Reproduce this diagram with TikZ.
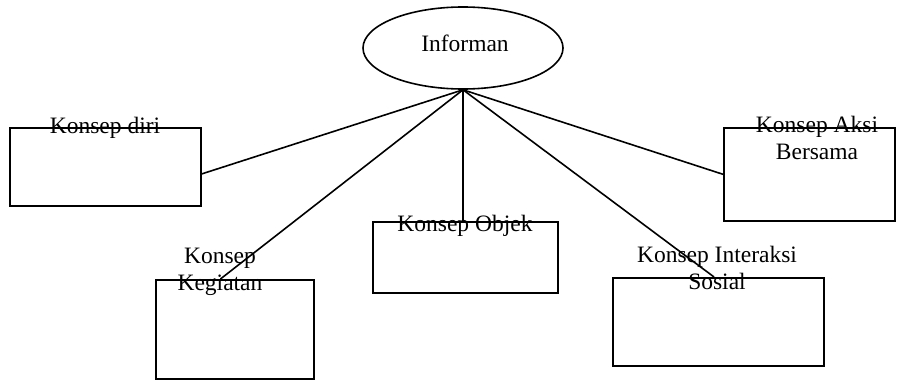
\documentclass[tikz,border=0pt]{standalone}
\usepackage{fontspec}
\setmainfont{Liberation Serif}
\usetikzlibrary{shapes.geometric,calc}
\begin{document}
\begin{tikzpicture}[x=1pt,y=-1pt,
  every node/.style={font=\fontsize{23.5}{27}\selectfont},
  box/.style={draw,line width=1.6pt,rectangle,inner sep=0pt,anchor=north west},
  lbl/.style={inner sep=0pt,anchor=base,align=center},
  conn/.style={line width=1.6pt}]
\useasboundingbox (0,0) rectangle (904,380);
\node[draw,line width=1.6pt,ellipse,minimum width=200pt,minimum height=82pt,inner sep=0pt] (inf) at (463,48) {};
\node[inner sep=0pt,anchor=base] (inft) at (465,51) {Informan};
\node[box,minimum width=191pt,minimum height=78pt] (diri) at (9,127) {};
\node[box,minimum width=171pt,minimum height=93pt] (aksi) at (723,127) {};
\node[box,minimum width=185pt,minimum height=71pt] (obj) at (372,221) {};
\node[box,minimum width=158pt,minimum height=99pt] (keg) at (155,279) {};
\node[box,minimum width=211pt,minimum height=88pt] (inter) at (612,277) {};
\node[lbl] (diril) at (105,133) {Konsep diri};
\node[lbl] (aksil) at (817,159) {Konsep Aksi\\Bersama};
\node[lbl] (objl) at (465,231) {Konsep Objek};
\node[lbl] (kegl) at (220,290) {Konsep\\Kegiatan};
\node[lbl] (interl) at (717,289) {Konsep Interaksi\\Sosial};
\draw[conn] (inf.south) -- ($(diri.south east)!0.41!(diri.north east)$);
\draw[conn] (inf.south) -- (aksi.west);
\draw[conn] (inf.south) -- (inf.south |- obj.north);
\draw[conn] (inf.south) -- ($(keg.north west)!0.41!(keg.north east)$);
\draw[conn] (inf.south) -- ($(inter.north west)!0.48!(inter.north east)$);
\end{tikzpicture}
\end{document}
